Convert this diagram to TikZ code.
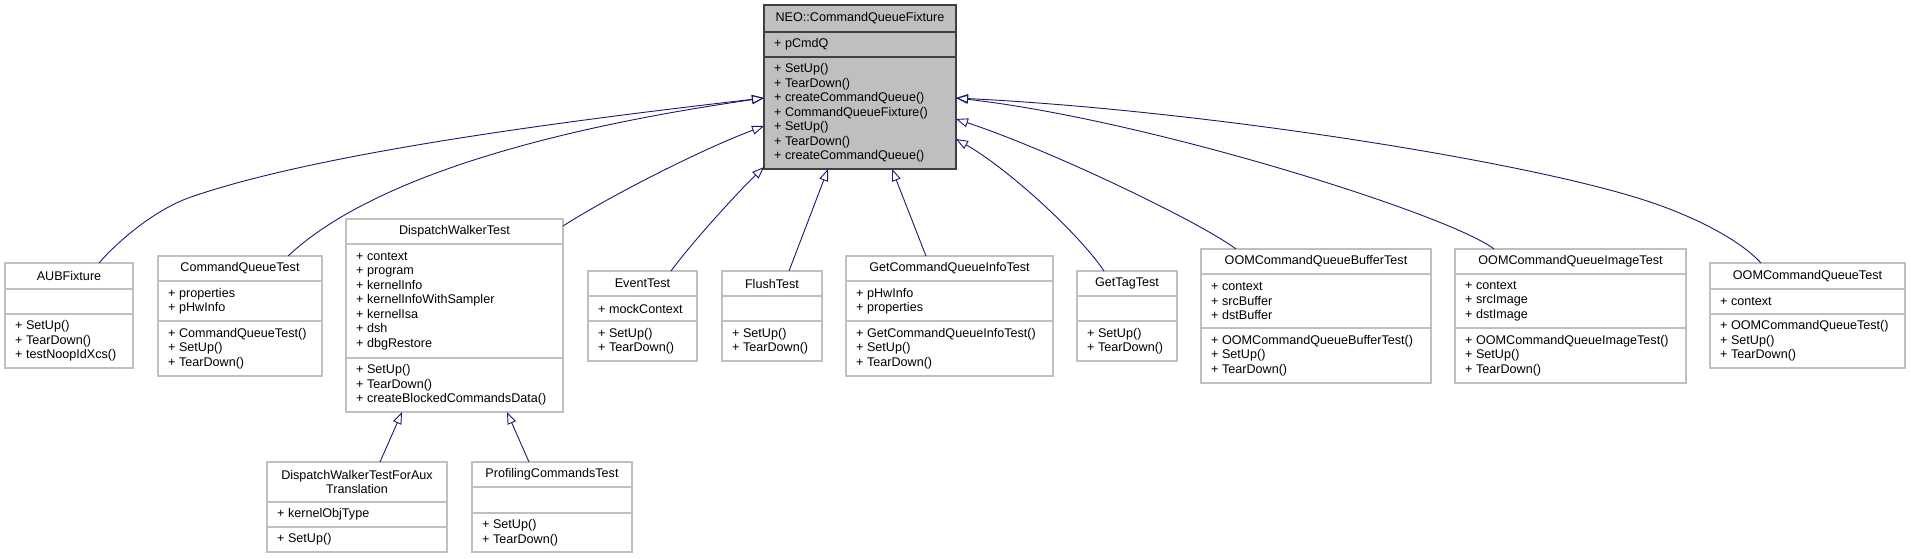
\documentclass[tikz,border=0pt]{standalone}
\usepackage{fontspec}
\setmainfont{Liberation Sans}
\usetikzlibrary{fit,calc,arrows.meta}
\definecolor{edgeblue}{HTML}{191970}
\definecolor{boxgray}{HTML}{BFBFBF}
\definecolor{mainborder}{HTML}{404040}
\newcommand\umlfont{\fontsize{12.6}{14.5}\selectfont}
\tikzset{
  basecls/.style={draw=mainborder, fill=boxgray, line width=1.5pt},
  basecls div/.style={draw=mainborder, line width=1.5pt},
  subcls/.style={draw=boxgray, fill=white, line width=1.2pt},
  subcls div/.style={draw=boxgray, line width=1.2pt},
  titletext/.style={font=\umlfont, align=center, inner sep=0pt},
  membtext/.style={font=\umlfont, align=left, inner sep=0pt, anchor=west},
  inherit/.style={draw=edgeblue, line width=0.9pt, -{Triangle[open, length=12pt, width=9pt]}},
}
\newcommand\umlbox[8]{%
  \def\ubxa{#2}\def\ubxb{#3}\def\ubya{#4}\def\ubda{#5}\def\ubdb{#6}\def\ubyb{#7}%
  \node[#8, fit={(#2,#4) (#3,#7)}, inner sep=0pt, outer sep=0pt] (#1) {};%
  \draw[#8 div] (#2,#5) -- (#3,#5);%
  \draw[#8 div] (#2,#6) -- (#3,#6);%
  \umlcontent}
\newcommand\umlcontent[3]{%
  \node[titletext] at ({(\ubxa+\ubxb)/2},{(\ubya+\ubda)/2}) {#1};%
  \node[membtext] at ({\ubxa+10},{(\ubda+\ubdb)/2}) {#2};%
  \node[membtext] at ({\ubxa+10},{(\ubdb+\ubyb)/2}) {#3};}
\begin{document}
\begin{tikzpicture}[x=1pt,y=-1pt]
\useasboundingbox (0,0) rectangle (1911,559);
\umlbox{main}{764}{956}{5}{32}{57}{169}{basecls}
 {NEO::CommandQueueFixture}{+ pCmdQ}{+ SetUp()\\+ TearDown()\\+ createCommandQueue()\\+ CommandQueueFixture()\\+ SetUp()\\+ TearDown()\\+ createCommandQueue()}
\umlbox{aub}{5}{133}{263}{289}{314}{368}{subcls}
 {AUBFixture}{}{+ SetUp()\\+ TearDown()\\+ testNoopIdXcs()}
\umlbox{cqt}{158}{322}{256}{281}{321}{376}{subcls}
 {CommandQueueTest}{+ properties\\+ pHwInfo}{+ CommandQueueTest()\\+ SetUp()\\+ TearDown()}
\umlbox{dwt}{346}{563}{219}{244}{358}{412}{subcls}
 {DispatchWalkerTest}{+ context\\+ program\\+ kernelInfo\\+ kernelInfoWithSampler\\+ kernelIsa\\+ dsh\\+ dbgRestore}{+ SetUp()\\+ TearDown()\\+ createBlockedCommandsData()}
\umlbox{evt}{588}{697}{271}{296}{321}{361}{subcls}
 {EventTest}{+ mockContext}{+ SetUp()\\+ TearDown()}
\umlbox{flt}{722}{822}{271}{296}{321}{361}{subcls}
 {FlushTest}{}{+ SetUp()\\+ TearDown()}
\umlbox{gqi}{846}{1053}{256}{281}{321}{376}{subcls}
 {GetCommandQueueInfoTest}{+ pHwInfo\\+ properties}{+ GetCommandQueueInfoTest()\\+ SetUp()\\+ TearDown()}
\umlbox{gtt}{1077}{1177}{271}{296}{321}{361}{subcls}
 {GetTagTest}{}{+ SetUp()\\+ TearDown()}
\umlbox{oomb}{1201}{1431}{249}{274}{328}{383}{subcls}
 {OOMCommandQueueBufferTest}{+ context\\+ srcBuffer\\+ dstBuffer}{+ OOMCommandQueueBufferTest()\\+ SetUp()\\+ TearDown()}
\umlbox{oomi}{1455}{1686}{249}{274}{328}{383}{subcls}
 {OOMCommandQueueImageTest}{+ context\\+ srcImage\\+ dstImage}{+ OOMCommandQueueImageTest()\\+ SetUp()\\+ TearDown()}
\umlbox{oomq}{1710}{1905}{263}{289}{314}{368}{subcls}
 {OOMCommandQueueTest}{+ context}{+ OOMCommandQueueTest()\\+ SetUp()\\+ TearDown()}
\umlbox{dwa}{267}{447}{462}{502}{527}{552}{subcls}
 {DispatchWalkerTestForAux\\Translation}{+ kernelObjType}{+ SetUp()}
\umlbox{pct}{472}{632}{462}{487}{513}{552}{subcls}
 {ProfilingCommandsTest}{}{+ SetUp()\\+ TearDown()}
\draw[inherit] ($(aub.north west)+(94,0)$) .. controls (119,240) and (156,209) .. (191,197) .. controls (321,152) and (574,120) .. ($(main.north west)+(0,93)$);
\draw[inherit] ($(cqt.north west)+(130,0)$) .. controls (368,181) and (540,130) .. ($(main.north west)+(0,93)$);
\draw[inherit] ($(dwt.north east)+(0,7)$) .. controls (610,196) and (700,150) .. ($(main.north west)+(0,121)$);
\draw[inherit] ($(evt.north west)+(83,0)$) .. controls (690,245) and (735,195) .. ($(main.south west)+(0,-2)$);
\draw[inherit] ($(flt.north west)+(67,0)$) -- ($(main.south west)+(64,0)$);
\draw[inherit] ($(gqi.north west)+(80,0)$) -- ($(main.south west)+(128,0)$);
\draw[inherit] ($(gtt.north west)+(27,0)$) .. controls (1080,235) and (1010,170) .. ($(main.north east)+(0,134)$);
\draw[inherit] ($(oomb.north west)+(35,0)$) .. controls (1200,222) and (1050,150) .. ($(main.north east)+(0,114)$);
\draw[inherit] ($(oomi.north west)+(39,0)$) .. controls (1450,215) and (1150,120) .. ($(main.north east)+(0,93)$);
\draw[inherit] ($(oomq.north west)+(51,0)$) .. controls (1740,240) and (1694,216) .. (1644,200) .. controls (1520,160) and (1200,110) .. ($(main.north east)+(0,93)$);
\draw[inherit] ($(dwa.north west)+(113,0)$) -- ($(dwt.south west)+(56,0)$);
\draw[inherit] ($(pct.north west)+(57,0)$) -- ($(dwt.south west)+(161,0)$);
\end{tikzpicture}
\end{document}
